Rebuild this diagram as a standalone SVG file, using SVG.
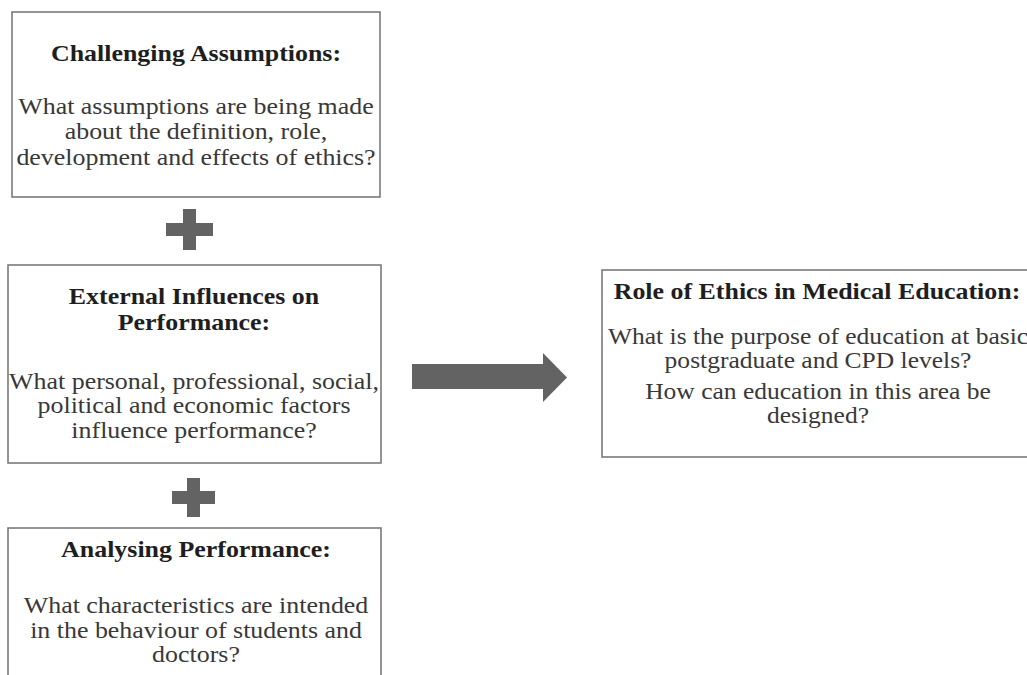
<svg xmlns="http://www.w3.org/2000/svg" width="1027" height="675" viewBox="0 0 1027 675">
<style>
.box{fill:#ffffff;stroke:#7a7a7a;stroke-width:1.6}
.t{font-family:"Liberation Serif","Times New Roman",serif;font-size:24px;text-anchor:middle;fill:#1e1e1e;font-weight:bold}
.b{font-family:"Liberation Serif","Times New Roman",serif;font-size:24px;text-anchor:middle;fill:#383838}
.s{font-size:23px}
.sym{fill:#636363}
</style>
<rect width="1027" height="675" fill="#ffffff"/>
<g id="challenging">
<rect class="box" x="12" y="12" width="368" height="185"/>
<g transform="translate(196,0) scale(1.08,1)">
<text class="t" x="0" y="61">Challenging Assumptions:</text>
<text class="b" x="0" y="114">What assumptions are being made</text>
<text class="b" x="0" y="139.5">about the definition, role,</text>
<text class="b" x="0" y="165">development and effects of ethics?</text>
</g>
</g>
<g id="plus1"><path class="sym" d="M183 209h13v14h17v13h-17v14h-13v-14h-17v-13h17z"/></g>
<g id="external">
<rect class="box" x="8" y="265" width="373" height="198"/>
<g transform="translate(194,0) scale(1.08,1)" xml:space="preserve">
<text class="t" x="0" y="304">External Influences on</text>
<text class="t" x="0" y="330">Performance:</text>
<text class="b" x="0" y="389">What personal, professional, social,</text>
<text class="b" x="0" y="413">political  and economic factors</text>
<text class="b" x="0" y="438">influence  performance?</text>
</g>
</g>
<g id="plus2"><path class="sym" d="M187 478h13v13h15v13h-15v13h-13v-13h-15v-13h15z"/></g>
<g id="analysing">
<rect class="box" x="8" y="528" width="373" height="170"/>
<g transform="translate(196,0) scale(1.08,1)">
<text class="t" x="0" y="557">Analysing Performance:</text>
<text class="b" x="0" y="613">What characteristics are intended</text>
<text class="b" x="0" y="638">in the behaviour of students and</text>
<text class="b" x="0" y="662">doctors?</text>
</g>
</g>
<g id="role">
<rect class="box" x="602" y="270" width="440" height="187"/>
<g transform="translate(817,0) scale(1.08,1)">
<text class="t" x="0" y="299">Role of Ethics in Medical Education:</text>
</g>
<g transform="translate(818,0) scale(1.11,1)">
<text class="b s" x="0" y="344">What is the purpose of education at basic</text>
<text class="b s" x="0" y="368">postgraduate and CPD levels?</text>
<text class="b s" x="0" y="399">How can education in this area be</text>
<text class="b s" x="0" y="423">designed?</text>
</g>
</g>
<g id="connectors">
<path class="sym" d="M412 364H543V353L567 377.5L543 402V389H412z"/>
</g>
</svg>
